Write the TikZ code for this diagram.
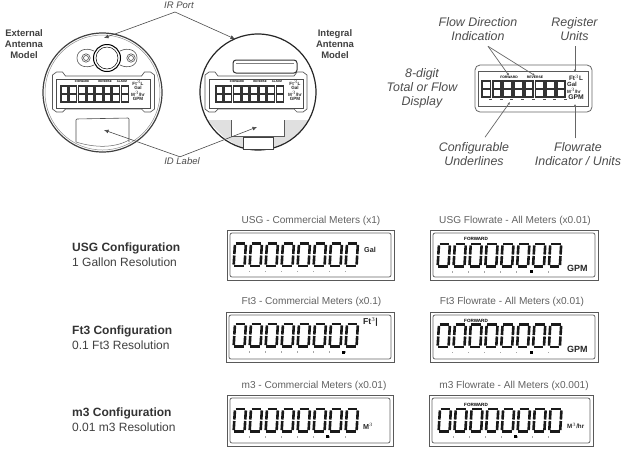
\documentclass[tikz,border=0pt]{standalone}
\usepackage{fontspec}
\setmainfont{Liberation Sans}
\usetikzlibrary{arrows.meta}
\definecolor{lab}{gray}{0.3}
\definecolor{cap}{gray}{0.38}
\newcommand{\zerodigit}[4]{% x y w h
 \begin{scope}[shift={(#1,#2)},xslant=0.06,x=#3pt,y=-#4pt,line cap=butt]
  \draw[seg] (.13,.04)--(.87,.04);
  \draw[seg] (.13,.96)--(.87,.96);
  \draw[seg] (.08,.1)--(.08,.47);
  \draw[seg] (.08,.53)--(.08,.9);
  \draw[seg] (.92,.1)--(.92,.47);
  \draw[seg] (.92,.53)--(.92,.9);
 \end{scope}}
\newcommand{\digitrow}[5]{% x y pitch w h
 \foreach \i in {0,...,7}{\pgfmathsetmacro{\dx}{#1+\i*#3}\zerodigit{\dx}{#2}{#4}{#5}}
 \foreach \i in {1,...,7}{\fill[black!35] (#1+\i*#3-1.5,#2+#5+3.5) rectangle +(.7,1.6);}}
\newcommand{\lcdbox}[4]{% x1 y1 x2 y2
 \draw[lcdouter] (#1,#2) rectangle (#3,#4);
 \draw[lcdinner] (#1+3,#2+3) rectangle (#3-3,#4-3);}
\newcommand{\eightrow}[6]{% x y pitch w h linewidth
 \foreach \i in {0,...,7}{\pgfmathsetmacro{\dx}{#1+\i*#3}
  \begin{scope}[shift={(\dx,#2)},x=#4pt,y=-#5pt]
   \draw[draw=black!80,line width=#6] (0,0) rectangle (1,1); \draw[draw=black!80,line width=#6] (0,.5)--(1,.5);
  \end{scope}}}
\newcommand{\meter}[4]{% cx cy digit-x unit-x
 \draw[gray!70!black,line width=.7pt] (#1-47,#2-20) -- (#1-41,#2-20) -- (#1-38,#2-16) -- (#1+38,#2-16) -- (#1+41,#2-20) -- (#1+47,#2-20) -- (#1+51,#2-17) -- (#1+51,#2+17) -- (#1+47,#2+20) -- (#1+41,#2+20) -- (#1+38,#2+17)-- (#1-38,#2+17) -- (#1-41,#2+20) -- (#1-47,#2+20) -- (#1-51,#2+17) -- (#1-51,#2-17) -- cycle;
 \draw[gray!60!black,line width=.4pt] (#1-47,#2-13) rectangle (#1+47,#2+16);
 \eightrow{#3}{#2-6}{8.6}{7}{16}{1.4pt}
 \node[tiny] at (#3+21,#2-10) {FORWARD};
 \node[tiny] at (#3+44,#2-10) {REVERSE};
 \node[tiny] at (#3+61,#2-10) {ALARM};
 \node[unit] at (#4,#2-9) {Ft$^3$L};
 \node[unit] at (#4,#2-4) {Gal};
 \node[unit] at (#4,#2+2) {M$^3$/hr};
 \node[unit] at (#4,#2+7) {GPM};
}
\tikzset{
 seg/.style={line width=2.6pt,black!90},
 lcdouter/.style={draw=black!65,line width=.8pt},
 lcdinner/.style={draw=black!60,line width=.8pt,rounded corners=2pt},
 captxt/.style={font=\fontsize{10.1}{11}\selectfont,text=cap,inner sep=0pt},
 cfgb/.style={font=\fontsize{12}{13}\selectfont\bfseries,text=black!80,inner sep=0pt,anchor=west},
 cfgr/.style={font=\fontsize{12}{13}\selectfont,text=black!75,inner sep=0pt,anchor=west},
 itl/.style={font=\fontsize{12.4}{14}\selectfont\itshape,text=lab,inner sep=0pt,align=center},
 itls/.style={font=\fontsize{9.5}{10}\selectfont\itshape,text=lab,inner sep=0pt},
 modl/.style={font=\fontsize{9.5}{11}\selectfont\bfseries,text=black!75,inner sep=0pt,align=center},
 tiny/.style={font=\fontsize{2.8}{3}\selectfont\bfseries,text=black,inner sep=0pt},
 unit/.style={font=\fontsize{4.6}{5}\selectfont\bfseries,text=black!85,inner sep=0pt},
 fwd/.style={font=\fontsize{4.6}{5}\selectfont\bfseries,text=black,inner sep=0pt,anchor=west},
 gpm/.style={font=\fontsize{9}{9}\selectfont\bfseries,text=black!85,inner sep=0pt,anchor=west},
 lcdunit/.style={font=\fontsize{7.2}{8}\selectfont\bfseries,text=black!85,inner sep=0pt,anchor=west},
 ptr/.style={draw=black!70,line width=.6pt,-{Latex[length=4.5pt,width=4pt]}},
 ptrs/.style={draw=black!60,line width=.7pt,-{Latex[length=2.5pt,width=2.5pt]}},
 dp/.style={fill=black},
}
\begin{document}
\begin{tikzpicture}[x=1pt,y=-1pt]
\useasboundingbox (0,0) rectangle (624,451);
% --- left housing
\draw[black!75,line width=1.2pt] (102.5,92.5) circle (59.5pt);
\draw[black!45,line width=.5pt] (102.5,92.5) circle (57.5pt);
\draw[black,line width=1pt,fill=white] (107,58) circle (13.5pt);
\draw[black,line width=.5pt] (107,58) circle (11pt);
\draw[black!70,line width=.6pt] (86,58) circle (4.2pt) (86,58) circle (2.5pt) (131,58) circle (4.2pt) (131,58) circle (2.5pt);
\draw[black!70,line width=.6pt] (94,51) .. controls (86,47) and (77,50) .. (77,58) .. controls (77,66) and (86,69) .. (94,65) (120,51) .. controls (128,47) and (137,50) .. (137,58) .. controls (137,66) and (128,69) .. (120,65);
\meter{103.5}{92}{61}{138}
\draw[black!70,line width=.6pt,rounded corners=1pt] (76,142)--(76,119)--(129,118)--(129,142);
\draw[black!60,line width=.5pt] (76,142) .. controls (95,148) and (115,148) .. (129,140);
% --- right housing
\fill[black!12] (207,120)--(231,120)--(231,137)--(243,137)--(243,149)--(225,138)--cycle;
\fill[black!12] (284,120)--(309,120)--(297,135)--(284,143)--(273,149)--(273,137)--(284,137)--cycle;
\draw[black!85,line width=1.2pt] (258,92) circle (58pt);
\draw[black!80,line width=1pt,rounded corners=3pt,fill=white] (233,60) rectangle (297,73);
\draw[black!50,line width=.5pt] (236,63) -- (294,63);
\meter{256}{92}{216}{295}
\draw[black!65,line width=.5pt] (231,120)--(231,136)--(284,136)--(284,120);
\draw[black!75,line width=.8pt,fill=white] (243,137) rectangle (273,149);
% --- left labels
\node[modl] (extm) at (24,44) {External\\Antenna\\Model};
\node[modl] (intm) at (335,44) {Integral\\Antenna\\Model};
\node[itls] (irport) at (179,5.5) {IR Port};
\node[itls] (idlabel) at (182,161.5) {ID Label};
\coordinate (irl) at (104,38);
\coordinate (irr) at (235,39);
\coordinate (idl) at (104,130);
\coordinate (idr) at (257,127);
\draw[ptr] (irport.south) ++(-4,3) -- (irl);
\draw[ptr] (irport.south) ++(-4,3) -- (irr);
\draw[ptr] (idlabel.north) ++(-2,-1) -- (idl);
\draw[ptr] (idlabel.north) ++(-2,-1) -- (idr);
% --- annotated LCD
\draw[black!60,line width=.8pt,rounded corners=5pt] (475,65) rectangle (592,112);
\draw[black!65,line width=.5pt] (478,71) -- (588,71) -- (588,106) -- (478,106) -- cycle;
\eightrow{482}{81}{10.7}{8.5}{16}{1.9pt}
\foreach \i in {0,...,7}{\fill[black!70] (489+\i*10.7,98.5) rectangle +(3,1.4);}
\node[font=\fontsize{3.4}{4}\selectfont\bfseries,inner sep=0pt] (ffw) at (509,77) {FORWARD};
\node[font=\fontsize{3.4}{4}\selectfont\bfseries,inner sep=0pt] (frv) at (535,77) {REVERSE};
\node[font=\fontsize{6.4}{7}\selectfont\bfseries,text=black!85,inner sep=0pt] at (576,78) {Ft$^3$L};
\node[font=\fontsize{6}{7}\selectfont\bfseries,text=black!85,inner sep=0pt] at (572,84.5) {Gal};
\node[font=\fontsize{4.6}{7}\selectfont\bfseries,text=black!85,inner sep=0pt] at (574,90.5) {M$^3$/hr};
\node[font=\fontsize{6.8}{7}\selectfont\bfseries,text=black!85,inner sep=0pt] at (576,97) {GPM};
\node[itl] (flowdir) at (478,29.5) {Flow Direction\\Indication};
\node[itl] (regu) at (574.5,29.5) {Register\\Units};
\node[itl] (digits) at (422,88) {8-digit\\Total or Flow\\Display};
\node[itl] (confu) at (474,154) {Configurable\\Underlines};
\node[itl] (flowu) at (578,154) {Flowrate\\Indicator / Units};
\coordinate (u1) at (510,102);
\coordinate (r1) at (575,72);
\coordinate (f1) at (575,104);
\draw[ptrs] (flowdir.south) ++(10,5) -- (ffw.north);
\draw[ptrs] (flowdir.south) ++(10,5) -- (frv.north);
\draw[ptrs] (regu.south) ++(.5,5) -- (r1);
\draw[ptrs] (flowu.north) ++(-3,-4) -- (f1);
\draw[ptrs] (confu.north) ++(11,-5) -- (u1);
% --- config labels
\node[cfgb] at (72,248) {USG Configuration};
\node[cfgr] at (72,262) {1 Gallon Resolution};
\node[cfgb] at (72,331) {Ft3 Configuration};
\node[cfgr] at (72,345) {0.1 Ft3 Resolution};
\node[cfgb] at (72,413) {m3 Configuration};
\node[cfgr] at (72,427) {0.01 m3 Resolution};
% --- row 1
\node[captxt] at (311,220.5) {USG - Commercial Meters (x1)};
\lcdbox{227}{230}{394}{280}
\digitrow{234}{242.5}{16}{13}{24.5}
\node[lcdunit] at (364,250) {Gal};
\node[captxt] at (515,220.5) {USG Flowrate - All Meters (x0.01)};
\lcdbox{430}{230}{598}{280}
\digitrow{438}{243}{15.9}{13}{24.5}
\node[fwd] at (464,239) {FORWARD};
\node[gpm] at (567,268.5) {GPM};
\fill[dp] (530,270) rectangle +(2.5,2.5);
% --- row 2
\node[captxt] at (311.5,302) {Ft3 - Commercial Meters (x0.1)};
\lcdbox{226}{312}{394}{362}
\digitrow{234}{323}{16}{13}{24.5}
\node[lcdunit,font=\fontsize{8.6}{9}\selectfont\bfseries] at (363,322) {Ft$^3$|};
\fill[dp] (342,351) rectangle +(2.5,2.5);
\node[captxt] at (512,302) {Ft3 Flowrate - All Meters (x0.01)};
\lcdbox{430}{312}{598}{362}
\digitrow{438}{323.5}{15.9}{13}{24.5}
\node[fwd] at (464,321) {FORWARD};
\node[gpm] at (567,349.5) {GPM};
\fill[dp] (530,351) rectangle +(2.5,2.5);
% --- row 3
\node[captxt] at (314,386) {m3 - Commercial Meters (x0.01)};
\lcdbox{227}{395}{393}{446}
\digitrow{234}{408}{16}{13}{24.5}
\node[lcdunit] at (363,426) {M$^3$};
\fill[dp] (326,435) rectangle +(2.5,2.5);
\node[captxt] at (514,386) {m3 Flowrate - All Meters (x0.001)};
\lcdbox{429}{395}{593}{446}
\digitrow{439}{408}{15.8}{13}{24.5}
\node[fwd] at (464,405) {FORWARD};
\node[lcdunit,font=\fontsize{6.2}{7}\selectfont\bfseries] at (567,426) {M$^3$/hr};
\fill[dp] (514,435) rectangle +(2.5,2.5);
\end{tikzpicture}
\end{document}
